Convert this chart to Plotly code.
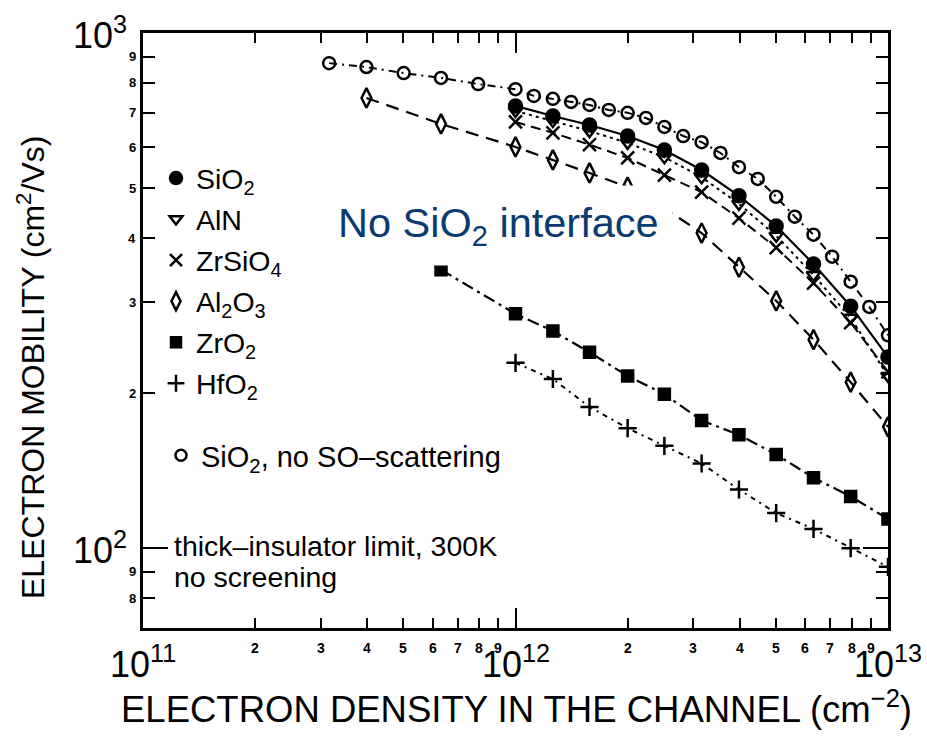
import math
import plotly.graph_objects as go

# ---------------- data ----------------
n_noso = [3.16e11, 3.98e11, 5.01e11, 6.31e11, 7.94e11, 1.0e12, 1.12e12, 1.26e12, 1.41e12,
          1.58e12, 1.78e12, 2.0e12, 2.24e12, 2.51e12, 2.82e12, 3.16e12, 3.55e12, 3.98e12,
          4.47e12, 5.01e12, 5.62e12, 6.31e12, 7.08e12, 7.94e12, 8.91e12, 1.0e13]
mu_noso = [874, 859, 836, 818, 796, 778, 755, 745, 735, 725, 709, 700, 684, 657, 631, 614,
           585, 549, 521, 481, 440, 406, 368, 329, 294, 259]

n_main = [1.0e12, 1.26e12, 1.58e12, 2.0e12, 2.51e12, 3.16e12, 3.98e12, 5.01e12, 6.31e12,
          7.94e12, 1.0e13]
mu_sio2 = [722, 690, 663, 631, 593, 542, 483, 422, 356, 295, 235]
mu_aln = [706, 675, 645, 612, 574, 525, 466, 404, 339, 280, 216]
mu_zrsio4 = [672, 640, 607, 572, 530, 491, 437, 383, 327, 274, 220]

n_al2o3 = [3.98e11, 6.31e11, 1.0e12, 1.26e12, 1.58e12, 2.0e12, 2.51e12, 3.16e12, 3.98e12,
           5.01e12, 6.31e12, 7.94e12, 1.0e13]
mu_al2o3 = [748, 666, 601, 567, 535, 502, 457, 409, 351, 302, 254, 210, 172]

n_zro2 = [6.31e11, 1.0e12, 1.26e12, 1.58e12, 2.0e12, 2.51e12, 3.16e12, 3.98e12, 5.01e12,
          6.31e12, 7.94e12, 1.0e13]
mu_zro2 = [347, 285, 264, 240, 216, 199, 177, 166, 152, 137, 126, 114]

n_hfo2 = [1.0e12, 1.26e12, 1.58e12, 2.0e12, 2.51e12, 3.16e12, 3.98e12, 5.01e12, 6.31e12,
          7.94e12, 1.0e13]
mu_hfo2 = [229, 213, 188, 171, 158, 146, 130, 117, 109, 100, 92]

x_major = [1e11, 1e12, 1e13]
x_major_text = ["10<sup>11</sup>", "10<sup>12</sup>", "10<sup>13</sup>"]
x_minor = [k * 10 ** d for d in (11, 12) for k in range(2, 10)]
x_minor_text = [str(k) for d in (11, 12) for k in range(2, 10)]
y_major = [100, 1000]
y_major_text = ["10<sup>2</sup>", "10<sup>3</sup>"]
y_minor = [80, 90, 200, 300, 400, 500, 600, 700, 800, 900]
y_minor_text = ["8", "9", "2", "3", "4", "5", "6", "7", "8", "9"]

# ---------------- layout helpers ----------------
W, H = 927, 750
L, R, T, B = 143, 888, 33, 628
FONT = "Liberation Sans, Arial, Helvetica, sans-serif"


def px2x(px):
    return (px - L) / (R - L)


def py2y(py):
    return (B - py) / (B - T)


series = [
    dict(name="SiO<sub>2</sub>", x=n_main, y=mu_sio2, symbol="circle", size=13,
         dash="solid", lw=2.2),
    dict(name="AlN", x=n_main, y=mu_aln, symbol="triangle-down-open", size=12,
         dash="3px,4px", lw=2),
    dict(name="ZrSiO<sub>4</sub>", x=n_main, y=mu_zrsio4, symbol="x-thin-open", size=13,
         dash="10px,6px", lw=2),
    dict(name="Al<sub>2</sub>O<sub>3</sub>", x=n_al2o3, y=mu_al2o3,
         symbol="diamond-tall-open", size=14, dash="13px,8px", lw=2.2),
    dict(name="ZrO<sub>2</sub>", x=n_zro2, y=mu_zro2, symbol="square", size=11,
         dash="12px,5px,3px,5px", lw=2.2),
    dict(name="HfO<sub>2</sub>", x=n_hfo2, y=mu_hfo2, symbol="cross-thin-open", size=13,
         dash="5px,5px,2px,5px", lw=2),
]

fig = go.Figure()

# open circles: SiO2 without SO scattering
fig.add_trace(go.Scatter(
    x=n_noso, y=mu_noso, mode="lines+markers", showlegend=False,
    line=dict(color="black", width=2, dash="8px,5px,2px,5px"),
    marker=dict(symbol="circle-open", size=12, color="black", line=dict(width=2.5, color="black")),
))

for s in series:
    fig.add_trace(go.Scatter(
        x=s["x"], y=s["y"], mode="lines+markers", showlegend=False,
        line=dict(color="black", width=s["lw"], dash=s["dash"]),
        marker=dict(symbol=s["symbol"], size=s["size"], color="black",
                    line=dict(width=2.5, color="black")),
    ))

# legend-only entries (markers only, like the reference)
for i, s in enumerate(series):
    fig.add_trace(go.Scatter(
        x=[None], y=[None], mode="markers", name=s["name"], legendgroup="g%d" % i,
        marker=dict(symbol=s["symbol"], size=s["size"] - 1, color="black",
                    line=dict(width=2.5, color="black")),
        legend="legend",
    ))
fig.add_trace(go.Scatter(
    x=[None], y=[None], mode="markers", name="SiO<sub>2</sub>, no SO\u2013scattering",
    marker=dict(symbol="circle-open", size=11, color="black", line=dict(width=2.5, color="black")),
    legend="legend2",
))

annotations = []
# x tick labels
for v, t in zip(x_minor, x_minor_text):
    annotations.append(dict(x=math.log10(v), xref="x", y=py2y(648), yref="paper", text="<b>%s</b>" % t,
                            showarrow=False, xanchor="center", yanchor="middle",
                            font=dict(size=14, family=FONT, color="black")))
for v, t in zip(x_major, x_major_text):
    annotations.append(dict(x=math.log10(v), xref="x", y=py2y(662), yref="paper", text=t,
                            showarrow=False, xanchor="center", yanchor="middle",
                            font=dict(size=36, family=FONT, color="black")))
# y tick labels
for v, t in zip(y_minor, y_minor_text):
    annotations.append(dict(x=px2x(138), xref="paper", y=math.log10(v), yref="y", text="<b>%s</b>" % t,
                            showarrow=False, xanchor="right", yanchor="middle",
                            font=dict(size=13, family=FONT, color="black")))
for v, t in zip(y_major, y_major_text):
    annotations.append(dict(x=px2x(129), xref="paper", y=math.log10(v), yref="y", text=t,
                            showarrow=False, xanchor="right", yanchor="middle",
                            font=dict(size=36, family=FONT, color="black")))

# axis titles
annotations.append(dict(x=px2x(516), xref="paper", y=py2y(707), yref="paper",
                        text="ELECTRON DENSITY IN THE CHANNEL (cm<sup>\u22122</sup>)",
                        showarrow=False, xanchor="center", yanchor="middle",
                        font=dict(size=36.5, family=FONT, color="black")))
annotations.append(dict(x=px2x(31), xref="paper", y=py2y(368), yref="paper",
                        text="ELECTRON MOBILITY (cm<sup>2</sup>/Vs)", textangle=-90,
                        showarrow=False, xanchor="center", yanchor="middle",
                        font=dict(size=32, family=FONT, color="black")))

# notes
annotations.append(dict(x=px2x(172), xref="paper", y=py2y(546), yref="paper",
                        text="thick\u2013insulator limit, 300K", showarrow=False,
                        xanchor="left", yanchor="middle",
                        font=dict(size=28.5, family=FONT, color="black")))
annotations.append(dict(x=px2x(172), xref="paper", y=py2y(577), yref="paper",
                        text="no screening", showarrow=False,
                        xanchor="left", yanchor="middle",
                        font=dict(size=28.5, family=FONT, color="black")))
annotations.append(dict(x=px2x(498), xref="paper", y=py2y(226), yref="paper",
                        text="No SiO<sub>2</sub> interface", showarrow=False,
                        xanchor="center", yanchor="middle", bgcolor="white", borderpad=13,
                        font=dict(size=41.5, family=FONT, color="#0b3a70")))

axis_common = dict(type="log", showgrid=False, zeroline=False, showline=True, linewidth=3,
                   linecolor="black", mirror="allticks", ticks="inside", tickwidth=2,
                   tickcolor="black", showticklabels=False)

fig.update_layout(
    width=W, height=H,
    margin=dict(l=L, r=W - R, t=T, b=H - B),
    paper_bgcolor="white", plot_bgcolor="white",
    xaxis=dict(range=[11, 13], tickmode="array", tickvals=x_major, ticklen=20,
               minor=dict(tickmode="array", tickvals=x_minor, ticks="inside", ticklen=10,
                          tickwidth=2, tickcolor="black"),
               **axis_common),
    yaxis=dict(range=[math.log10(70), 3], tickmode="array", tickvals=y_major, ticklen=25,
               minor=dict(tickmode="array", tickvals=y_minor, ticks="inside", ticklen=12,
                          tickwidth=2, tickcolor="black"),
               **axis_common),
    legend=dict(x=px2x(156), xanchor="left", y=py2y(153), yanchor="top",
                font=dict(size=28.5, family=FONT, color="black"), bgcolor="rgba(0,0,0,0)",
                tracegroupgap=1, itemwidth=30),
    legend2=dict(x=px2x(161), xanchor="left", y=py2y(430), yanchor="top",
                 font=dict(size=29, family=FONT, color="black"), bgcolor="rgba(0,0,0,0)",
                 itemwidth=30),
    annotations=annotations,
    showlegend=True,
)

fig.write_html("out.html")
